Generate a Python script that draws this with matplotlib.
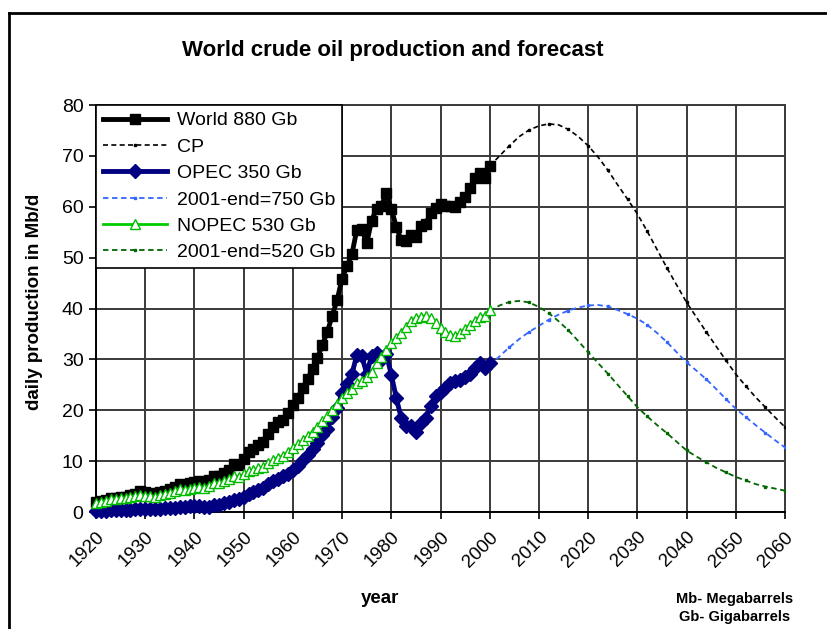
import matplotlib
matplotlib.use("Agg")
import matplotlib.pyplot as plt
from matplotlib.lines import Line2D
import numpy as np

plt.rcParams['font.family'] = ['Liberation Sans', 'DejaVu Sans']

# ---------------- data ----------------
hist_years = list(range(1920, 2001))
world = [2.0, 2.1, 2.4, 2.8, 2.8, 2.9, 3.0, 3.4, 3.6, 4.1,
         3.9, 3.8, 3.6, 3.9, 4.1, 4.5, 4.9, 5.6, 5.4, 5.7,
         5.9, 6.1, 5.6, 6.2, 7.0, 7.1, 7.6, 8.3, 9.4, 9.3,
         10.4, 11.7, 12.3, 13.1, 13.7, 15.4, 16.8, 17.6, 18.1, 19.5,
         21.0, 22.4, 24.3, 26.1, 28.2, 30.3, 32.9, 35.4, 38.6, 41.7,
         45.9, 48.3, 50.7, 55.5, 55.7, 52.8, 57.3, 59.6, 60.2, 62.7,
         59.6, 56.1, 53.5, 53.2, 54.5, 54.0, 56.2, 56.7, 58.7, 59.8,
         60.5, 60.2, 60.2, 60.0, 60.9, 62.0, 63.6, 65.6, 66.7, 65.6,
         68.0]
opec = [0.2, 0.2, 0.2, 0.3, 0.3, 0.3, 0.3, 0.4, 0.5, 0.6,
        0.6, 0.6, 0.6, 0.6, 0.7, 0.7, 0.8, 1.0, 1.0, 1.1,
        1.1, 1.1, 0.9, 1.0, 1.3, 1.4, 1.7, 2.0, 2.4, 2.5,
        3.0, 3.5, 3.9, 4.4, 4.8, 5.5, 6.1, 6.4, 7.0, 7.5,
        8.3, 9.1, 10.2, 11.2, 12.4, 13.6, 15.1, 16.4, 18.6, 20.5,
        23.4, 25.2, 27.1, 30.9, 30.7, 27.2, 30.7, 31.3, 29.8, 31.0,
        27.0, 22.5, 18.5, 17.0, 17.0, 15.8, 17.5, 18.5, 20.8, 22.8,
        23.6, 24.4, 25.3, 25.8, 26.0, 26.5, 27.2, 28.4, 29.2, 28.3,
        29.3]
nopec = [1.8, 2.0, 2.2, 2.6, 2.6, 2.7, 2.7, 3.0, 3.1, 3.4,
         3.2, 3.2, 3.0, 3.3, 3.5, 3.8, 4.1, 4.6, 4.4, 4.6,
         4.8, 5.0, 4.8, 5.2, 5.7, 5.8, 6.0, 6.4, 7.0, 6.9,
         7.4, 8.0, 8.3, 8.6, 8.8, 9.6, 10.2, 10.7, 11.0, 11.8,
         12.6, 13.3, 14.1, 14.9, 15.8, 16.8, 17.8, 18.9, 20.0, 21.2,
         22.5, 23.3, 24.2, 25.3, 25.8, 26.5, 27.5, 29.2, 30.5, 31.8,
         33.2, 34.3, 35.2, 36.4, 37.6, 38.2, 38.4, 38.6, 38.2, 37.2,
         36.2, 35.3, 34.8, 34.6, 35.2, 36.0, 36.8, 37.6, 38.4, 38.6,
         39.8]

fc_years = list(range(2000, 2061, 2))
cp = [68.0, 70.0, 72.0, 73.8, 75.1, 75.9, 76.3, 76.1, 75.2, 73.8,
      72.0, 69.8, 67.2, 64.3, 61.5, 58.6, 55.2, 51.6, 48.0, 44.6,
      41.2, 38.3, 35.4, 32.6, 29.8, 27.1, 24.8, 22.6, 20.6, 18.6,
      16.7]
opec_fc = [28.8, 30.6, 32.4, 34.0, 35.4, 36.6, 37.8, 38.8, 39.6, 40.2,
           40.6, 40.7, 40.4, 39.7, 38.9, 38.0, 36.8, 35.2, 33.4, 31.4,
           29.4, 27.8, 26.1, 24.2, 22.2, 20.3, 18.7, 17.1, 15.6, 14.1,
           12.7]
nopec_fc = [39.5, 40.6, 41.3, 41.5, 41.2, 40.3, 39.1, 37.5, 35.7, 33.6,
            31.4, 29.3, 27.2, 25.0, 22.8, 20.6, 18.8, 17.1, 15.5, 13.8,
            12.1, 10.9, 9.8, 8.7, 7.8, 6.9, 6.2, 5.5, 5.0, 4.6,
            4.2]

labels = ["World 880 Gb", "CP", "OPEC 350 Gb", "2001-end=750 Gb",
          "NOPEC 530 Gb", "2001-end=520 Gb"]
x_ticks = list(range(1920, 2061, 10))
y_ticks = list(range(0, 81, 10))

# ---------------- figure ----------------
fig = plt.figure(figsize=(8.27, 6.29), dpi=100)
ax = fig.add_axes([0.1161, 0.186, 0.8331, 0.647])

ax.plot(hist_years, world, color='black', lw=3.5, marker='s', ms=7,
        label=labels[0], zorder=5, clip_on=False)
ax.plot(fc_years, cp, color='black', lw=1.2, ls=(0, (3, 2)), marker='s', ms=2,
        markevery=2, label=labels[1], zorder=4)
ax.plot(hist_years, opec, color='#000080', lw=3.5, marker='D', ms=7,
        label=labels[2], zorder=5, clip_on=False)
ax.plot(fc_years, opec_fc, color='#3366FF', lw=1.3, ls=(0, (3, 2)), marker='s', ms=2,
        markevery=2, label=labels[3], zorder=4)
ax.plot(hist_years, nopec, color='#00CC00', lw=2, marker='^', ms=7.5, mfc='white',
        mec='#00BB00', mew=1.0, label=labels[4], zorder=6, clip_on=False)
ax.plot(fc_years, nopec_fc, color='#006600', lw=1.3, ls=(0, (3, 2)), marker='s', ms=2,
        markevery=2, label=labels[5], zorder=4)

ax.set_xlim(1920, 2060)
ax.set_ylim(0, 80)
ax.set_xticks(x_ticks)
ax.set_yticks(y_ticks)
ax.set_xticklabels([str(t) for t in x_ticks], rotation=45, ha='right',
                   rotation_mode='anchor', fontsize=13.5)
ax.set_yticklabels([str(t) for t in y_ticks], fontsize=14)
ax.tick_params(axis='both', direction='out', length=5, width=1.2, color='black')
ax.tick_params(axis='x', pad=7)
ax.tick_params(axis='y', pad=4)
ax.grid(True, color='#3a3a3a', lw=1.4)
ax.set_axisbelow(True)
for s in ax.spines.values():
    s.set_color('#3a3a3a')
    s.set_linewidth(1.4)
ax.spines['left'].set_color('black')
ax.spines['bottom'].set_color('black')

leg = ax.legend(loc='upper left', bbox_to_anchor=(0, 1), borderaxespad=0,
                fontsize=14, frameon=True, fancybox=False, framealpha=1,
                edgecolor='black', handlelength=3.3, labelspacing=0.45,
                handletextpad=0.5, borderpad=0.35)
leg.get_frame().set_linewidth(1.2)
leg.set_zorder(10)

fig.text(0.475, 0.919, "World crude oil production and forecast",
         ha='center', va='center', fontsize=16, fontweight='bold')
fig.text(0.042, 0.52, "daily production in Mb/d", rotation=90,
         ha='center', va='center', fontsize=13.5, fontweight='bold')
fig.text(0.46, 0.049, "year", ha='center', va='center', fontsize=13.5,
         fontweight='bold')
fig.text(0.888, 0.047, "Mb- Megabarrels", ha='center', va='center',
         fontsize=10.5, fontweight='bold')
fig.text(0.888, 0.019, "Gb- Gigabarrels", ha='center', va='center',
         fontsize=10.5, fontweight='bold')

# page border (top and left edges visible)
fig.add_artist(Line2D([9 / 827, 9 / 827], [0, 1 - 13 / 629], transform=fig.transFigure,
                      color='black', lw=2))
fig.add_artist(Line2D([9 / 827, 1], [1 - 13 / 629, 1 - 13 / 629], transform=fig.transFigure,
                      color='black', lw=2))

fig.savefig("out.png", dpi=100)
